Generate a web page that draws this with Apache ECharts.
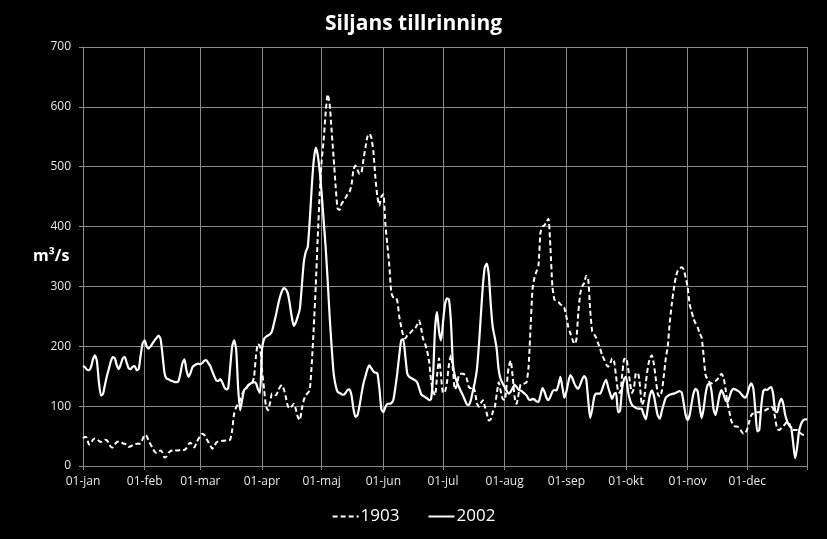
<!DOCTYPE html>
<html><head><meta charset="utf-8">
<script src="https://cdn.jsdelivr.net/npm/echarts@6/dist/echarts.min.js"></script>
<style>html,body{margin:0;padding:0;background:#000}#c{width:827px;height:539px}</style>
</head><body><div id="c"></div>
<script>
const monthNames = ['jan','feb','mar','apr','maj','jun','jul','aug','sep','okt','nov','dec'];
const monthLengths = [31,28,31,30,31,30,31,31,30,31,30,31];
const seriesNames = ['1903','2002'];

const flow1903 = [
  46,49,47,36,38,44,46,45,42,40, 42,44,43,38,32,31,36,40,41,40, 38,37,36,32,33,35,36,37,37,38, 45,
  52,50,42,36,30,24,22,25,26,22, 14,16,22,25,26,27,26,26,27,26, 27,30,36,39,35,31,38,45,
  50,54,52,46,40,34,29,33,39,41, 41,42,42,43,43,44,60,88,98,104, 110,120,126,129,134,137,139,149,185,204, 200,
  160,130,100,93,105,121,120,118,125,132, 135,128,115,100,96,100,104,95,82,77, 95,110,118,122,127,170,230,300,380,455,
  510,545,590,621,605,560,515,468,430,428, 438,443,448,454,458,470,495,502,495,488, 490,512,532,550,555,548,525,482,450,435, 450,
  454,405,370,335,290,282,282,276,250,232, 218,213,218,221,224,228,230,236,243,230, 212,204,192,175,143,125,118,150,180,150,
  122,124,140,170,185,160,128,135,152,154, 154,152,145,132,130,133,125,105,99,105, 110,100,88,76,78,90,98,120,140,125, 112,
  110,135,165,176,150,115,104,120,136,138, 138,140,165,230,295,315,325,335,390,400, 402,408,413,365,300,278,276,274,270,268, 264,
  250,232,222,212,204,210,255,288,300,306, 318,312,260,225,220,214,205,196,185,178, 170,166,170,180,175,150,125,122,150,178,
  180,165,140,122,130,155,155,135,102,110, 140,165,180,185,170,145,120,116,125,150, 180,200,240,270,295,315,326,330,332,328, 315,
  299,270,258,246,238,232,222,215,185,152, 145,140,138,140,142,145,150,154,148,130, 105,90,75,68,66,66,63,58,54,55,
  62,75,85,88,89,90,90,91,92,93, 95,97,99,96,80,62,60,63,66,70, 74,72,62,60,60,60,57,54,52,52, 52
];

const flow2002 = [
  167,165,161,160,165,178,185,175,140,118, 120,135,150,162,175,182,180,168,162,170, 180,182,172,163,162,166,167,160,162,185, 205,
  210,200,196,200,205,210,214,218,212,185, 155,146,145,143,142,140,140,142,155,172, 178,160,149,155,165,168,170,171,
  170,172,176,177,172,167,158,150,143,142, 145,140,132,128,130,165,200,210,195,130, 93,110,127,130,135,137,139,140,138,128, 122,
  195,212,216,218,220,225,238,252,268,282, 292,297,295,288,270,248,234,240,250,262, 300,340,358,366,410,466,510,532,520,493,
  455,410,365,310,250,199,155,135,124,122, 120,119,122,127,128,118,95,82,85,100, 120,138,150,162,168,163,158,156,155,130, 95,
  90,98,104,104,105,110,130,155,185,210, 212,185,155,149,147,145,143,140,130,120, 117,115,113,110,112,150,230,257,225,210,
  240,270,280,278,240,170,150,140,132,125, 118,110,103,102,110,125,140,160,200,250, 300,332,338,320,270,232,215,195,160,145, 138,
  132,126,121,124,130,136,132,127,126,124, 121,118,112,110,112,111,108,107,118,130, 124,114,110,116,124,127,126,135,149,132, 114,
  124,140,152,147,138,132,129,136,145,150, 145,110,80,95,115,121,121,121,128,138, 144,132,121,112,120,122,90,92,128,145,
  149,125,110,102,99,97,96,96,95,85, 78,98,118,126,118,100,84,79,92,104, 114,117,119,120,121,122,124,125,123,105, 85,
  77,85,105,122,129,125,100,80,95,120, 135,138,125,95,85,100,118,127,120,110, 107,115,125,129,128,126,124,120,116,114,
  120,132,138,130,95,58,60,100,125,128, 127,130,132,120,92,90,104,112,105,86, 75,68,65,40,13,30,58,70,76,78, 78
];

// build day categories from month names/lengths
const categories = [];
const monthStarts = new Set();
monthNames.forEach((m, i) => {
  monthStarts.add(categories.length);
  for (let d = 1; d <= monthLengths[i]; d++) {
    categories.push(String(d).padStart(2, '0') + '-' + m);
  }
});
const lastIdx = categories.length - 1;
const gridIdx = idx => monthStarts.has(idx) || idx === lastIdx;

const FONT = "'Liberation Sans Narrow', 'Open Sans', sans-serif";
const GRID = '#8a8a8a';
const chart = echarts.init(document.getElementById('c'));
chart.setOption({
  backgroundColor: '#000',
  animation: false,
  title: {
    text: 'Siljans tillrinning', left: 'center', top: 9,
    textStyle: { color: '#fff', fontSize: 21, fontWeight: 'bold', fontFamily: FONT }
  },
  legend: {
    bottom: 9, left: 'center', itemWidth: 26, itemHeight: 10, itemGap: 28,
    itemStyle: { opacity: 0 },
    textStyle: { color: '#fff', fontSize: 17, fontFamily: FONT, padding: [0,0,0,-3] },
    data: seriesNames
  },
  grid: { left: 83, right: 20, top: 47, bottom: 73 },
  graphic: [{
    type: 'text', left: 33, top: 248,
    style: { text: 'm³/s', fill: '#fff', font: "bold 16px " + FONT }
  }],
  xAxis: {
    type: 'category', data: categories, boundaryGap: false,
    axisLine: { lineStyle: { color: GRID } },
    axisTick: { show: true, interval: gridIdx, length: 4, lineStyle: { color: GRID } },
    axisLabel: { interval: (i) => monthStarts.has(i), color: '#e8e8e8', fontSize: 12, fontFamily: FONT, margin: 10 },
    splitLine: { show: true, interval: gridIdx, lineStyle: { color: GRID, width: 1 } }
  },
  yAxis: {
    type: 'value', min: 0, max: 700, interval: 100,
    axisLine: { show: true, lineStyle: { color: GRID } },
    axisTick: { show: true, length: 4, lineStyle: { color: GRID } },
    axisLabel: { color: '#e8e8e8', fontSize: 12, fontFamily: FONT, margin: 12 },
    splitLine: { show: true, lineStyle: { color: GRID, width: 1 } }
  },
  series: [
    { name: seriesNames[0], type: 'line', data: flow1903, symbol: 'none', smooth: 0.2,
      lineStyle: { color: '#fff', width: 2, type: [5, 3] }, itemStyle: { color: '#fff' } },
    { name: seriesNames[1], type: 'line', data: flow2002, symbol: 'none', smooth: 0.2,
      lineStyle: { color: '#fff', width: 2.2 }, itemStyle: { color: '#fff' } }
  ]
});
</script></body></html>
